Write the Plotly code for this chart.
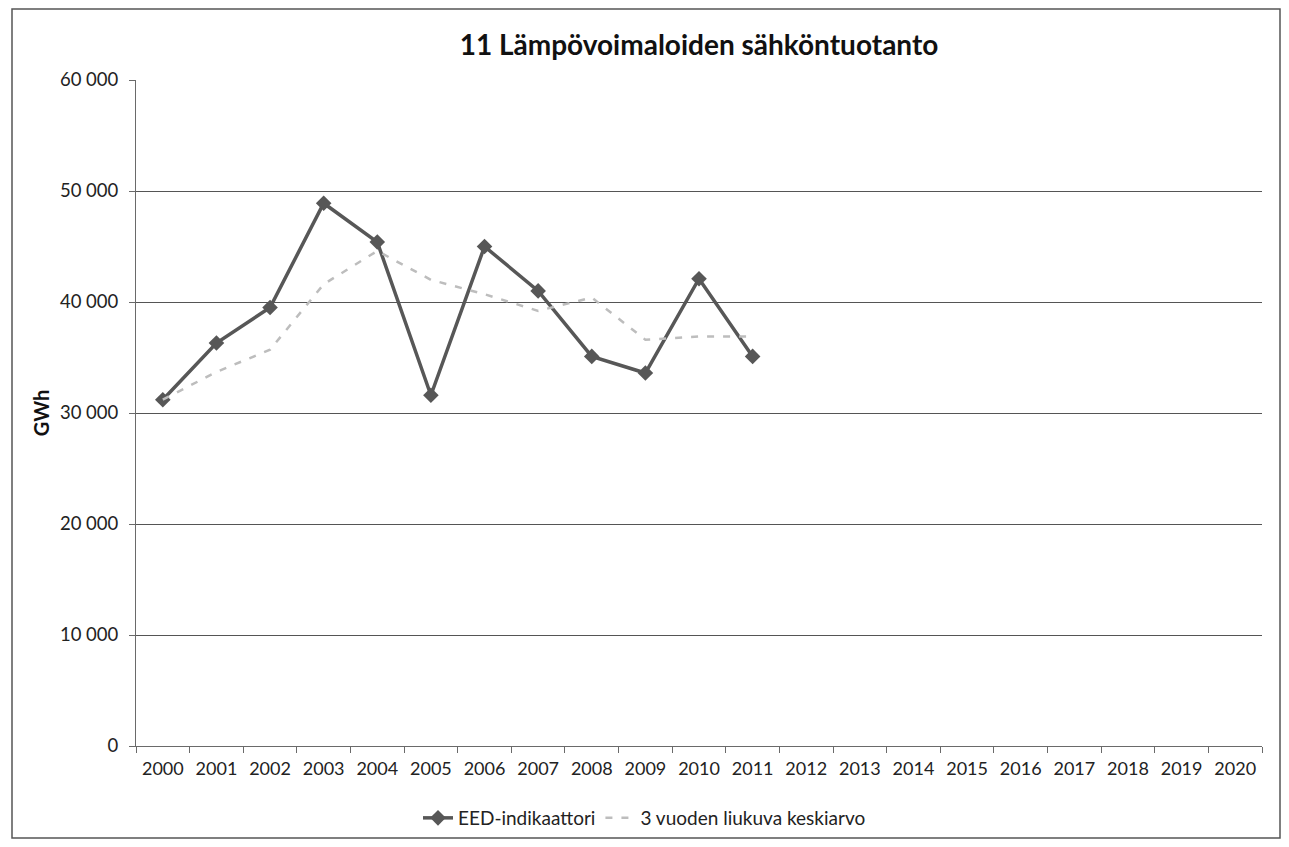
import plotly.graph_objects as go

years = [str(y) for y in range(2000, 2021)]
eed_years = [str(y) for y in range(2000, 2012)]
eed_values = [31200, 36300, 39500, 48900, 45400, 31600, 45000, 41000, 35100, 33600, 42100, 35100]
avg_values = [31200, 33700, 35700, 41600, 44600, 42000, 40700, 39200, 40400, 36600, 36900, 36900]
y_ticks = [0, 10000, 20000, 30000, 40000, 50000, 60000]
y_labels = ["0", "10 000", "20 000", "30 000", "40 000", "50 000", "60 000"]

FONT = "Lato, 'Open Sans', sans-serif"

W, H = 1273, 831
L, R, T, B = 128, 19, 72, 93
PW, PH = W - L - R, H - T - B

fig = go.Figure()
fig.add_trace(go.Scatter(
    x=years, y=[None] * len(years), showlegend=False, hoverinfo="skip", mode="lines",
))
fig.add_trace(go.Scatter(
    x=eed_years, y=eed_values, name="EED-indikaattori", mode="lines+markers",
    line=dict(color="#575757", width=3.5),
    marker=dict(symbol="diamond", size=12, color="#575757"),
))
fig.add_trace(go.Scatter(
    x=eed_years, y=avg_values, name="3 vuoden liukuva keskiarvo", mode="lines",
    line=dict(color="#bdbdbd", width=2.5, dash="7px,9px"),
))

fig.update_layout(
    width=W, height=H,
    paper_bgcolor="white", plot_bgcolor="white",
    margin=dict(l=L, r=R, t=T, b=B, autoexpand=False),
    font=dict(family=FONT, size=18, color="#222222"),
    title=dict(text="<b>11 Lämpövoimaloiden sähköntuotanto</b>", x=0.5, xref="paper",
               xanchor="center", y=1 - 37 / H, yanchor="middle",
               font=dict(size=28, color="#111111")),
    showlegend=True,
    legend=dict(orientation="h", x=0.5, xref="container", xanchor="center",
                y=1 - 810 / H, yref="container", yanchor="middle",
                font=dict(size=19, color="#222222"), tracegroupgap=0),
    xaxis=dict(type="category", categoryorder="array", categoryarray=years,
               range=[-0.5, 20.5], showgrid=False, showline=True, linecolor="#6a6a6a",
               ticks="outside", tickson="boundaries", ticklen=6, tickcolor="#6a6a6a",
               ticklabelstandoff=6, automargin=False, tickfont=dict(size=18)),
    yaxis=dict(range=[0, 60000], tickvals=y_ticks, ticktext=y_labels,
               showgrid=True, gridcolor="#555555", gridwidth=1,
               showline=True, linecolor="#6a6a6a", ticks="outside", ticklen=6,
               tickcolor="#6a6a6a", zeroline=False, automargin=False,
               ticklabelstandoff=7, tickfont=dict(size=18.5),
               title=dict(text="<b>GWh</b>", font=dict(size=20, color="#111111"), standoff=4)),
    shapes=[dict(type="rect", xref="paper", yref="paper",
                 x0=(4 - L) / PW, x1=(W - 1 - L) / PW,
                 y0=-(H - 1 - (H - B)) / PH, y1=1 + (T - 1) / PH,
                 line=dict(color="#555555", width=1.5))],
)

fig.write_html("out.html")
